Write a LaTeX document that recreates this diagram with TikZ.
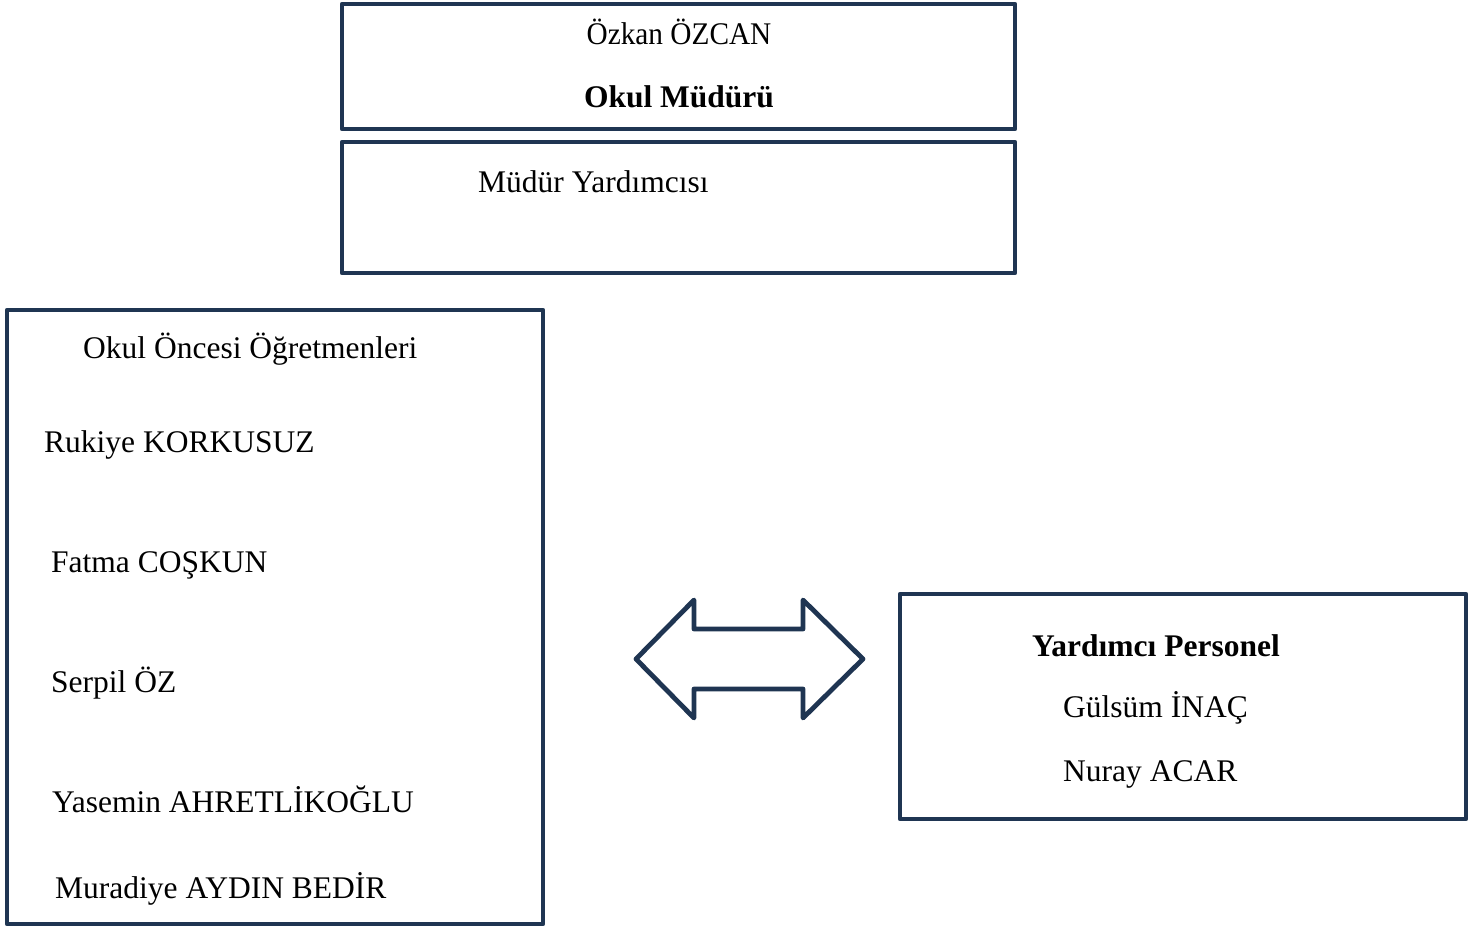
\documentclass[tikz,border=0pt]{standalone}
\usepackage{fontspec}
\setmainfont{Liberation Serif}
\newfontfamily\narrowserif[FakeStretch=0.93]{Liberation Serif}
\definecolor{navy}{HTML}{1F3552}
\tikzset{
  frame/.style={draw=navy, line width=4.8pt, line join=round},
  lbl/.style={inner sep=0pt, anchor=base west, font=\fontsize{31.5}{36}\selectfont},
}
\begin{document}
\begin{tikzpicture}[x=1pt,y=-1pt]
\useasboundingbox (0,0) rectangle (1477,928);
% boxes
\draw[frame] (342,4) rectangle (1015,129);
\draw[frame] (342,142) rectangle (1015,273);
\draw[frame] (7,310) rectangle (543,924);
\draw[frame] (900,594) rectangle (1466,819);
% double arrow
\draw[frame] (636,659) -- (694,600) -- (694,629) -- (803,629) -- (803,600)
  -- (863,659) -- (803,718) -- (803,689) -- (694,689) -- (694,718) -- cycle;
% texts
\node[lbl, anchor=base, font=\fontsize{31.5}{36}\narrowserif] (t1) at (679,45) {Özkan ÖZCAN};
\node[lbl, anchor=base, font=\fontsize{31.5}{36}\selectfont\bfseries] (t2) at (679,108) {Okul Müdürü};
\node[lbl] (t3) at (478,193) {Müdür Yardımcısı};
\node[lbl] (t4) at (83,358) {Okul Öncesi Öğretmenleri};
\node[lbl] (t5) at (44,452) {Rukiye KORKUSUZ};
\node[lbl] (t6) at (51,572) {Fatma COŞKUN};
\node[lbl] (t7) at (51,692) {Serpil ÖZ};
\node[lbl] (t8) at (52,812) {Yasemin AHRETLİKOĞLU};
\node[lbl] (t9) at (55,898) {Muradiye AYDIN BEDİR};
\node[lbl, font=\fontsize{31.5}{36}\selectfont\bfseries] (t10) at (1032,656) {Yardımcı Personel};
\node[lbl] (t11) at (1063,717) {Gülsüm İNAÇ};
\node[lbl] (t12) at (1063,781) {Nuray ACAR};
\end{tikzpicture}
\end{document}
